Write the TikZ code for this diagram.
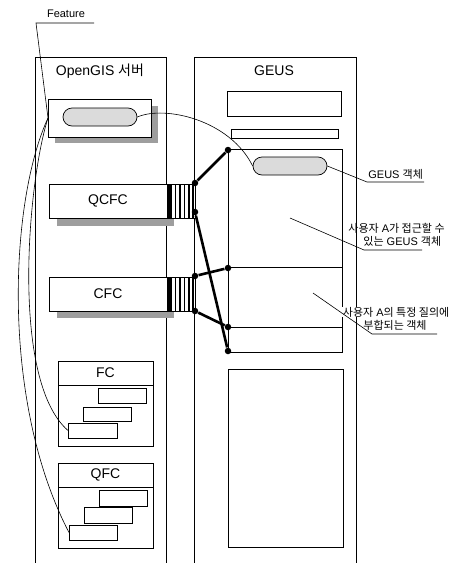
\documentclass[tikz,border=0pt]{standalone}
\usepackage{fontspec}
\setmainfont{Liberation Sans}
\newfontfamily\kr{Noto Sans CJK KR}
\usetikzlibrary{shapes.misc}
\begin{document}
\begin{tikzpicture}[x=1pt,y=-1pt,line width=0.8pt,
  box/.style={draw,inner sep=0pt,outer sep=0pt,anchor=north west},
  shade/.style={fill=black!38,draw=none},
  blob/.style={draw,rounded rectangle,fill=black!14,minimum width=74pt,minimum height=18pt,inner sep=0pt,line width=0.7pt},
  dot/.style={circle,fill=black,inner sep=0pt,minimum size=6.5pt},
  link/.style={line width=2.6pt},
  lead/.style={line width=0.6pt},
  stripe/.style={line width=1.5pt},
  big/.style={font=\fontsize{14}{16}\selectfont},
  small/.style={font=\fontsize{11}{13}\selectfont},
]
\useasboundingbox (0,0) rectangle (466,563);

% panels
\draw (35,563) |- (166,57) -- (166,563);
\draw (194,563) |- (356,57) -- (356,563);
\node[big] (tOG) at (100,71) {OpenGIS {\kr 서버}};
\node[big] (tGE) at (274,71) {GEUS};

% Feature box
\fill[shade] (55,106) rectangle (158,143);
\node[box,fill=white,minimum width=103pt,minimum height=38pt] (feat) at (48,99) {};
\node[blob] (fel) at (100,117) {};

% QCFC
\fill[shade] (57,190) rectangle (174,226);
\node[box,fill=white,big,minimum width=118pt,minimum height=34pt] (qcfc) at (49,184) {QCFC};
\node[box,fill=white,minimum width=28pt,minimum height=34pt] (qs) at (167,184) {};
\fill (167,184) rectangle (171.5,218);
\foreach \x in {175.5,180,184.5,189,193}{\draw[stripe] (\x,184) -- (\x,218);}

% CFC
\fill[shade] (57,283) rectangle (174,318);
\node[box,fill=white,big,minimum width=118pt,minimum height=34pt] (cfc) at (49,277) {CFC};
\node[box,fill=white,minimum width=28pt,minimum height=34pt] (cs) at (167,277) {};
\fill (167,277) rectangle (171.5,311);
\foreach \x in {175.5,180,184.5,189,193}{\draw[stripe] (\x,277) -- (\x,311);}

% FC
\node[box,minimum width=95pt,minimum height=85pt] (fc) at (58,361) {};
\draw (58,385) -- (153,385);
\node[big] (tfc) at (105.5,373) {FC};
\node[box,minimum width=48pt,minimum height=15pt] (fc1) at (98,388) {};
\node[box,minimum width=48pt,minimum height=14pt] (fc2) at (83,407) {};
\node[box,minimum width=49pt,minimum height=15pt] (fc3) at (68,423) {};

% QFC
\node[box,minimum width=95pt,minimum height=85pt] (qfc) at (58,463) {};
\draw (58,487) -- (153,487);
\node[big] (tqfc) at (105.5,475) {QFC};
\node[box,minimum width=48pt,minimum height=16pt] (qfc1) at (99,490) {};
\node[box,minimum width=48pt,minimum height=16pt] (qfc2) at (84,507) {};
\node[box,minimum width=48pt,minimum height=15pt] (qfc3) at (69,525) {};

% GEUS contents
\node[box,minimum width=114pt,minimum height=25pt] (g1) at (227,91) {};
\node[box,minimum width=107pt,minimum height=9pt] (g2) at (231,129) {};
\node[box,minimum width=114pt,minimum height=203pt] (g3) at (228,149) {};
\draw (228,267) -- (342,267);
\draw (228,327) -- (342,327);
\node[box,minimum width=115pt,minimum height=178pt] (g4) at (228,369) {};
\node[blob] (gel) at (290,166) {};

% curves
\draw[lead] (fel.east) .. controls (165,105) and (230,120) .. (gel.west);
\coordinate (fu) at (36,23);
\coordinate (fr) at (94,23);
\node[small,anchor=south] (tfeat) at (66,21) {Feature};
\draw[lead] (fr) -- (fu) -- (feat.west);
\draw[lead] (feat.west) .. controls (28,180) and (10,380) .. (fc3.west);
\draw[lead] (feat.west) .. controls (10,200) and (0,400) .. (qfc3.west);

% thick links
\node[dot] (A) at (228,150) {};
\node[dot] (B) at (195,183) {};
\node[dot] (C) at (195,212) {};
\node[dot] (D) at (228,268) {};
\node[dot] (E) at (195,276) {};
\node[dot] (F) at (195,311) {};
\node[dot] (H) at (228,327) {};
\node[dot] (G) at (228,351) {};
\draw[link] (A) -- (B);
\draw[link] (C) -- (G);
\draw[link] (E) -- (D);
\draw[link] (F) -- (H);

% labels
\node[small,anchor=west,inner sep=0pt] (l1) at (368,174) {GEUS {\kr 객체}};
\coordinate (l1a) at (367,182);
\coordinate (l1b) at (424,182);
\draw[lead] (gel.east) -- (l1a) -- (l1b);

\node[small,anchor=west,inner sep=0pt] (l2a) at (348,228) {{\kr 사용자} A{\kr 가 접근할 수}};
\node[small,anchor=west,inner sep=0pt] (l2b) at (363,241) {{\kr 있는} GEUS {\kr 객체}};
\coordinate (p2) at (290,218);
\coordinate (p2a) at (364,250);
\coordinate (p2b) at (422,250);
\draw[lead] (p2) -- (p2a) -- (p2b);

\node[small,anchor=west,inner sep=0.5pt,fill=white] (l3a) at (342,312) {{\kr 사용자} A{\kr 의 특정 질의에}};
\node[small,anchor=west,inner sep=0pt] (l3b) at (363,325) {{\kr 부합되는 객체}};
\coordinate (p3) at (313,293);
\coordinate (p3a) at (372,334);
\coordinate (p3b) at (437,334);
\draw[lead] (p3) -- (p3a) -- (p3b);
\end{tikzpicture}
\end{document}
